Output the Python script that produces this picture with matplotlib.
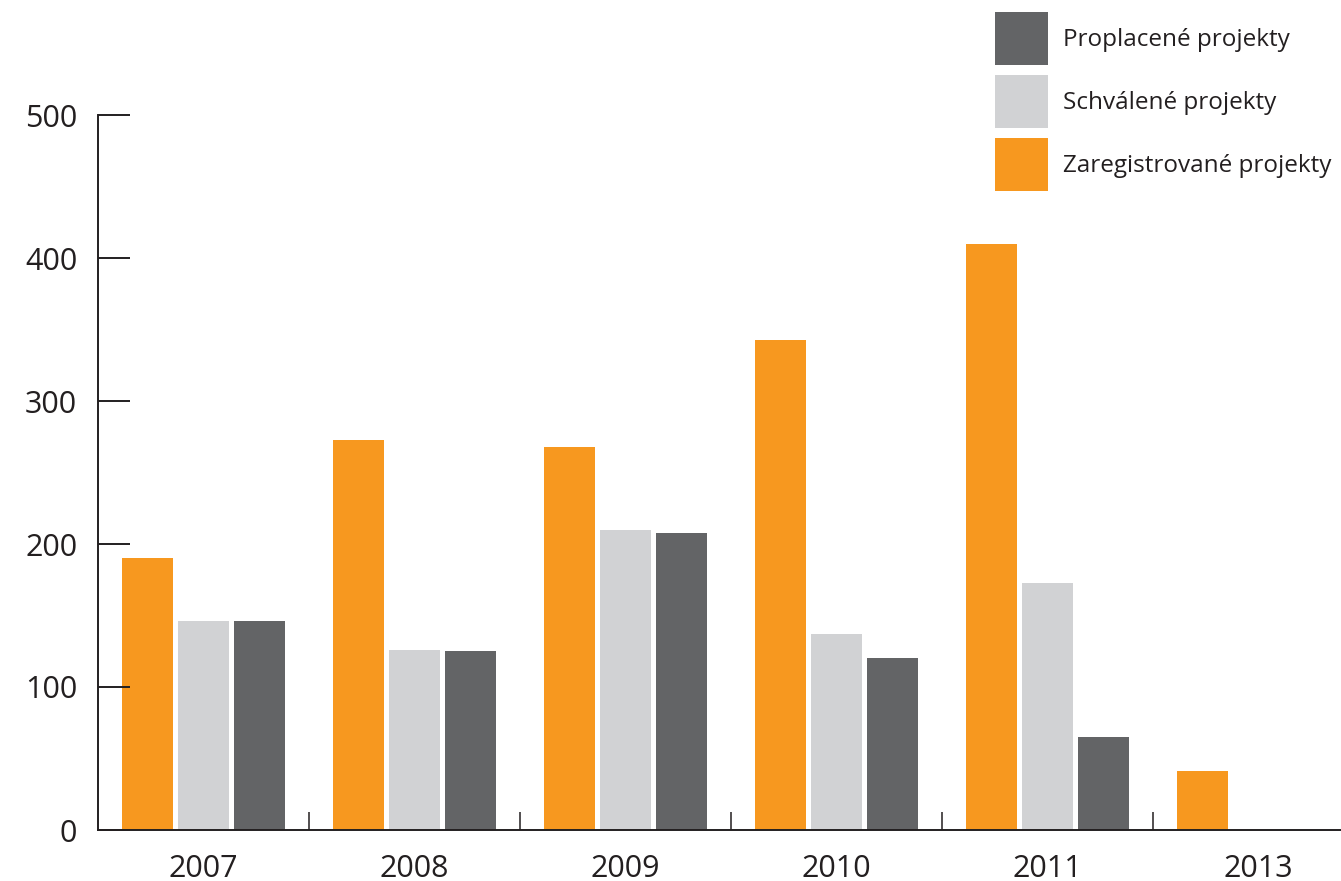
import matplotlib.pyplot as plt
import numpy as np

plt.rcParams['font.family'] = ['Open Sans', 'DejaVu Sans']

years = ['2007', '2008', '2009', '2010', '2011', '2013']
zaregistrovane = [190, 273, 268, 343, 410, 41]
schvalene = [146, 126, 210, 137, 173, 0]
proplacene = [146, 125, 208, 120, 65, 0]

c_orange = '#F7981F'
c_light = '#D1D2D4'
c_dark = '#636466'
c_axis = '#231F20'

fig = plt.figure(figsize=(13.41, 8.81), dpi=100)
ax = fig.add_axes([98 / 1341, 51 / 881, 1243 / 1341, 715 / 881])

x = np.arange(len(years))
w = 51 / 211
step = 56 / 211
b_dark = ax.bar(x + 0.5 + step, proplacene, w, color=c_dark, label='Proplacené projekty', zorder=1)
b_light = ax.bar(x + 0.5, schvalene, w, color=c_light, label='Schválené projekty', zorder=1)
b_orange = ax.bar(x + 0.5 - step, zaregistrovane, w, color=c_orange, label='Zaregistrované projekty', zorder=1)

ax.set_xlim(0, 1243 / 211)
ax.set_ylim(0, 500)

for s in ['top', 'right']:
    ax.spines[s].set_visible(False)
for s in ['left', 'bottom']:
    ax.spines[s].set_color(c_axis)
    ax.spines[s].set_linewidth(1.4)
    ax.spines[s].set_zorder(3)

ax.set_yticks([0, 100, 200, 300, 400, 500])
ax.tick_params(axis='y', direction='in', length=23, width=1.4, color=c_axis,
               labelsize=22, pad=15, labelcolor=c_axis)
ax.set_xticks(x[1:])
ax.set_xticklabels([])
ax.set_xticks(x + 0.5, minor=True)
ax.set_xticklabels(years, minor=True)
ax.tick_params(axis='x', which='major', direction='in', length=13, width=1.1, color=c_axis)
ax.tick_params(axis='x', which='minor', length=0, labelsize=22, pad=17, labelcolor=c_axis)
for t in ax.yaxis.get_major_ticks():
    t.tick1line.set_zorder(4)
ax.set_axisbelow(False)

fig.legend(handles=[b_dark, b_light, b_orange], loc='upper left',
           bbox_to_anchor=(995 / 1341, 1 - 12 / 881), frameon=False,
           fontsize=17.5, handlelength=2.18, handleheight=2.98, labelspacing=0.41,
           handletextpad=0.62, borderpad=0, borderaxespad=0, labelcolor=c_axis)

fig.savefig('out.png', dpi=100)
